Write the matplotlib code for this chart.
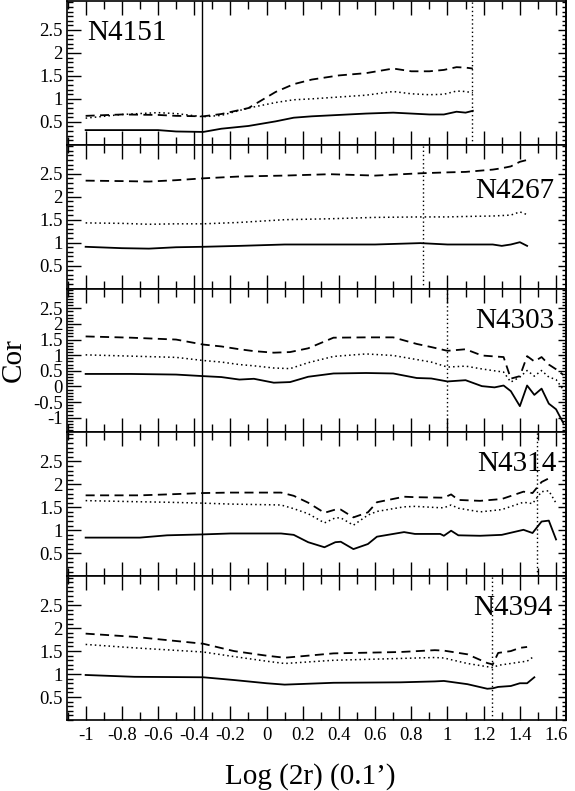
import matplotlib
matplotlib.use("Agg")
import matplotlib.pyplot as plt
import numpy as np
from matplotlib.ticker import MultipleLocator

plt.rcParams['font.family'] = ['Liberation Serif', 'DejaVu Serif']
plt.rcParams['axes.unicode_minus'] = False

# galaxy names, one panel each
names = ['N4151', 'N4267', 'N4303', 'N4314', 'N4394']

# N4151
x1 = [-1.0, -0.8, -0.6, -0.5, -0.35, -0.25, -0.1, 0.05, 0.15, 0.25, 0.4, 0.55,
      0.7, 0.8, 0.9, 0.98, 1.05, 1.1, 1.14]
solid1 = [0.32, 0.32, 0.32, 0.29, 0.28, 0.35, 0.41, 0.51, 0.59, 0.62, 0.65, 0.68,
          0.70, 0.68, 0.66, 0.66, 0.72, 0.70, 0.74]
dot1 = [0.58, 0.66, 0.70, 0.68, 0.61, 0.64, 0.80, 0.92, 0.98, 1.00, 1.04, 1.08,
        1.16, 1.11, 1.09, 1.10, 1.17, 1.16, 1.13]
dash1 = [0.63, 0.66, 0.65, 0.63, 0.62, 0.67, 0.80, 1.15, 1.32, 1.42, 1.51, 1.56,
         1.66, 1.60, 1.60, 1.63, 1.69, 1.68, 1.66]

# N4267
x2 = [-1.0, -0.8, -0.65, -0.5, -0.35, -0.15, 0.1, 0.35, 0.6, 0.85, 1.0, 1.1,
      1.25, 1.3, 1.35, 1.4, 1.44]
solid2 = [0.91, 0.88, 0.87, 0.90, 0.91, 0.93, 0.96, 0.96, 0.96, 0.99, 0.96, 0.96,
          0.96, 0.93, 0.96, 1.01, 0.93]
dot2 = [1.43, 1.42, 1.40, 1.41, 1.41, 1.44, 1.50, 1.52, 1.55, 1.56, 1.56, 1.57,
        1.58, 1.59, 1.60, 1.67, 1.61]
dash2 = [2.35, 2.34, 2.33, 2.36, 2.40, 2.44, 2.46, 2.49, 2.46, 2.51, 2.53, 2.54,
         2.59, 2.62, 2.66, 2.76, 2.80]

# N4303
x3 = [-1.0, -0.75, -0.5, -0.35, -0.25, -0.15, -0.07, 0.04, 0.13, 0.23, 0.37, 0.55,
      0.7, 0.83, 0.91, 1.0, 1.1, 1.19, 1.26, 1.31, 1.35, 1.40, 1.44, 1.48, 1.52,
      1.56, 1.60, 1.64]
solid3 = [0.40, 0.40, 0.38, 0.33, 0.30, 0.22, 0.245, 0.12, 0.14, 0.31, 0.415, 0.43,
          0.415, 0.27, 0.255, 0.16, 0.20, 0.01, -0.03, 0.03, -0.15, -0.63, 0.03,
          -0.27, -0.07, -0.55, -0.73, -1.17]
dot3 = [1.01, 0.97, 0.93, 0.83, 0.78, 0.70, 0.66, 0.59, 0.57, 0.76, 0.96, 1.04,
        0.99, 0.86, 0.78, 0.62, 0.65, 0.56, 0.50, 0.46, 0.14, 0.30, 0.51, 0.33,
        0.51, 0.30, 0.22, -0.10]
dash3 = [1.60, 1.56, 1.50, 1.34, 1.28, 1.19, 1.13, 1.08, 1.10, 1.22, 1.56, 1.57,
         1.57, 1.36, 1.26, 1.14, 1.19, 0.99, 0.96, 0.94, 0.25, 0.33, 0.97, 0.80,
         0.94, 0.70, 0.55, 0.37]

# N4314
x4 = [-1.0, -0.7, -0.55, -0.35, -0.2, 0.08, 0.15, 0.23, 0.32, 0.38, 0.41, 0.48,
      0.56, 0.61, 0.76, 0.82, 0.96, 0.98, 1.02, 1.06, 1.18, 1.3, 1.42, 1.47, 1.52,
      1.56, 1.60]
solid4 = [0.84, 0.84, 0.89, 0.91, 0.93, 0.93, 0.90, 0.74, 0.63, 0.74, 0.75, 0.59,
          0.70, 0.86, 0.96, 0.92, 0.92, 0.88, 0.99, 0.89, 0.88, 0.90, 1.01, 0.94,
          1.19, 1.21, 0.80]
dot4 = [1.645, 1.62, 1.61, 1.59, 1.57, 1.55, 1.47, 1.36, 1.16, 1.27, 1.27, 1.11,
        1.33, 1.41, 1.51, 1.52, 1.49, 1.49, 1.55, 1.48, 1.40, 1.45, 1.61, 1.58,
        1.84, 1.86, 1.59]
dash4 = [1.76, 1.76, 1.78, 1.81, 1.82, 1.82, 1.75, 1.60, 1.38, 1.45, 1.45, 1.28,
         1.39, 1.61, 1.73, 1.72, 1.71, 1.71, 1.78, 1.66, 1.64, 1.68, 1.84, 1.81,
         2.05, 2.13, np.nan]

# N4394
x5 = [-1.0, -0.73, -0.35, -0.18, 0.0, 0.1, 0.37, 0.74, 0.93, 0.98, 1.11, 1.22,
      1.25, 1.28, 1.35, 1.40, 1.44, 1.48]
solid5 = [0.98, 0.94, 0.93, 0.87, 0.80, 0.77, 0.81, 0.82, 0.84, 0.85, 0.78, 0.68,
          0.69, 0.72, 0.74, 0.80, 0.80, 0.93]
dot5 = [1.645, 1.57, 1.48, 1.38, 1.28, 1.23, 1.30, 1.34, 1.36, 1.35, 1.23, 1.16,
        1.14, 1.19, 1.23, 1.26, 1.28, 1.39]
dash5 = [1.88, 1.81, 1.66, 1.50, 1.40, 1.355, 1.45, 1.48, 1.52, 1.51, 1.43, 1.24,
         1.21, 1.46, 1.50, 1.57, 1.59, np.nan]

xs = [x1, x2, x3, x4, x5]
solids = [solid1, solid2, solid3, solid4, solid5]
dots = [dot1, dot2, dot3, dot4, dot5]
dashes = [dash1, dash2, dash3, dash4, dash5]

# vertical markers
common_line = -0.355
panel_lines = [1.137, 0.863, 0.996, 1.493, 1.244]

ylims = [(0, 3.13), (0, 3.13), (-1.47, 3.13), (0, 3.13), (0, 3.13)]
yticks = [[0.5, 1, 1.5, 2, 2.5]] * 5
yticks[2] = [-1, -0.5, 0, 0.5, 1, 1.5, 2, 2.5]
ytick_labels = [['0.5', '1', '1.5', '2', '2.5']] * 5
ytick_labels[2] = ['-1', '-0.5', '0', '0.5', '1', '1.5', '2', '2.5']

label_pos = [(0.04, 0.78, 'left'), (0.976, 0.676, 'right'), (0.976, 0.778, 'right'),
             (0.982, 0.778, 'right'), (0.974, 0.778, 'right')]

xticks = [-1, -0.8, -0.6, -0.4, -0.2, 0, 0.2, 0.4, 0.6, 0.8, 1, 1.2, 1.4, 1.6]
xtick_labels = ['-1', '-0.8', '-0.6', '-0.4', '-0.2', '0', '0.2', '0.4', '0.6',
                '0.8', '1', '1.2', '1.4', '1.6']

fig, axes = plt.subplots(5, 1, figsize=(5.75, 7.91), dpi=100, sharex=True)
fig.subplots_adjust(left=67 / 575, right=566 / 575, top=1 - 1 / 791,
                    bottom=1 - 720 / 791, hspace=0)

for i, ax in enumerate(axes):
    ax.plot(xs[i], solids[i], color='black', lw=1.3, ls='-')
    ax.plot(xs[i], dots[i], color='black', lw=1.1, ls=(0, (1, 2)))
    ax.plot(xs[i], dashes[i], color='black', lw=1.3, ls=(0, (5, 3)))
    ax.axvline(common_line, color='black', lw=1.0)
    ax.axvline(panel_lines[i], color='black', lw=1.0, ls=(0, (1, 2)))

    ax.set_xlim(-1.103, 1.655)
    ax.set_ylim(*ylims[i])
    ax.set_yticks(yticks[i])
    ax.set_yticklabels(ytick_labels[i])
    ax.yaxis.set_minor_locator(MultipleLocator(0.1))
    ax.xaxis.set_minor_locator(MultipleLocator(0.1))

    ax.tick_params(axis='x', which='major', direction='in', top=True, bottom=True,
                   length=10, width=1, labelsize=13.5, pad=5)
    ax.tick_params(axis='x', which='minor', direction='in', top=True, bottom=True,
                   length=5.5, width=1)
    ax.tick_params(axis='y', which='major', direction='in', left=True, right=False,
                   length=10, width=1, labelsize=13.5, pad=3)
    ax.tick_params(axis='y', which='minor', direction='in', left=True, right=False,
                   length=4.5, width=1)

    sec = ax.secondary_yaxis('right')
    sec.set_yticks(yticks[i])
    sec.yaxis.set_minor_locator(MultipleLocator(0.1))
    sec.tick_params(axis='y', which='major', direction='in', length=6, width=1,
                    labelright=False)
    sec.tick_params(axis='y', which='minor', direction='in', length=3, width=1)
    sec.spines['right'].set_linewidth(1.2)

    for s in ax.spines.values():
        s.set_linewidth(1.2)

    lx, ly, ha = label_pos[i]
    ax.text(lx, ly, names[i], transform=ax.transAxes, ha=ha, va='center',
            fontsize=21)

axes[-1].set_xticks(xticks)
axes[-1].set_xticklabels(xtick_labels)

fig.text(0.002, 1 - 360 / 791, 'Cor', rotation=90, ha='left', va='center',
         fontsize=21)
fig.text(0.54, 1 - 777 / 791, 'Log (2r) (0.1\u2019)', ha='center', va='center',
         fontsize=21)

fig.savefig('out.png', dpi=100)
